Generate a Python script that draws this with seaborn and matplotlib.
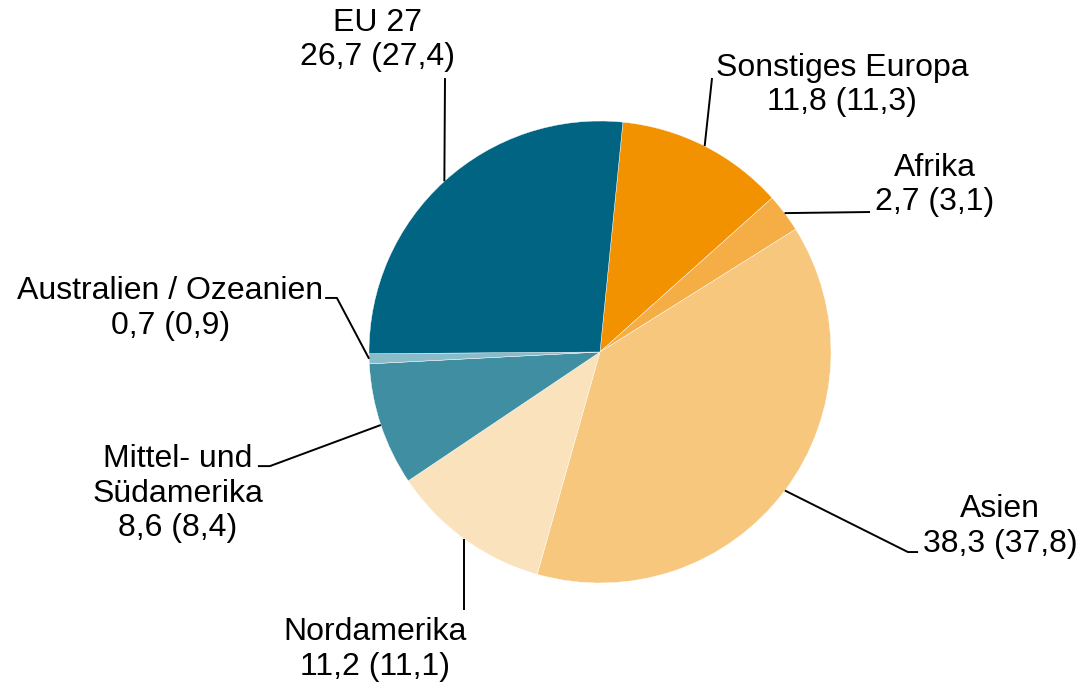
import numpy as np
import matplotlib
matplotlib.use("Agg")
import matplotlib.pyplot as plt
import seaborn as sns

# share in % (previous year in brackets), clockwise from the top
regions = ["Sonstiges Europa", "Afrika", "Asien", "Nordamerika",
           "Mittel- und\nSüdamerika", "Australien / Ozeanien", "EU 27"]
values = [11.8, 2.7, 38.3, 11.2, 8.6, 0.7, 26.7]
values_prev = [11.3, 3.1, 37.8, 11.1, 8.4, 0.9, 27.4]
colors = ["#F39200", "#F5AD45", "#F7C77E", "#FAE2BC",
          "#3F8EA2", "#8ABBC9", "#006482"]

sns.set_theme(style="white")
plt.rcParams['font.family'] = ['Liberation Sans', 'DejaVu Sans']

fig = plt.figure(figsize=(10.83, 6.88), dpi=100)
ax = fig.add_axes([0, 0, 1, 1])
ax.axis("off")

start = 84.3
wedges, _ = ax.pie(values, colors=colors, startangle=start, counterclock=False,
                   radius=1.0, wedgeprops=dict(edgecolor="white", linewidth=0.3))

ax.set_xlim(-600 / 231, (1083 - 600) / 231)
ax.set_ylim(-(688 - 352) / 231, 352 / 231)

def fmt(v):
    return f"{v:.1f}".replace(".", ",")

# label layout: text centre, then leader-line bend points after the wedge edge
layout = {
    "Sonstiges Europa": ((1.048, 1.156), [(0.485, 1.186)]),
    "Afrika": ((1.450, 0.723), [(1.169, 0.606)]),
    "Asien": ((1.732, -0.755), [(1.333, -0.866), (1.377, -0.866)]),
    "Nordamerika": ((-0.974, -1.288), [(-0.589, -1.117)]),
    "Mittel- und\nSüdamerika": ((-1.827, -0.613), [(-1.429, -0.494), (-1.481, -0.494)]),
    "Australien / Ozeanien": ((-1.861, 0.188), [(-1.139, 0.234), (-1.190, 0.234)]),
    "EU 27": ((-0.965, 1.351), [(-0.671, 1.186)]),
}

for w, name, v, vp in zip(wedges, regions, values, values_prev):
    mid = np.deg2rad((w.theta1 + w.theta2) / 2)
    x0, y0 = np.cos(mid), np.sin(mid)
    (tx, ty), pts = layout[name]
    if name == "Nordamerika":
        pts = [(x0, pts[0][1])]
    xs = [x0] + [p[0] for p in pts]
    ys = [y0] + [p[1] for p in pts]
    ax.plot(xs, ys, color="black", lw=1.4, solid_capstyle="butt")
    ax.text(tx, ty, f"{name}\n{fmt(v)} ({fmt(vp)})", ha="center", va="center",
            fontsize=23, color="black", linespacing=1.2)

fig.savefig("out.png", dpi=100)
